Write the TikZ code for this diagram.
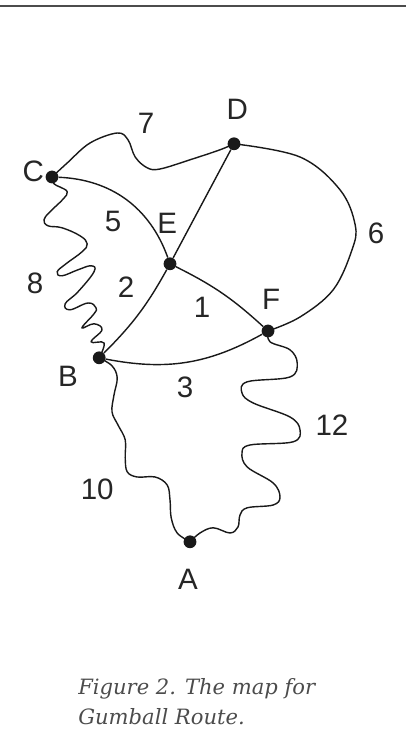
\documentclass[tikz,border=0pt]{standalone}
\usepackage{fontspec}
\setmainfont{Liberation Sans}
\newfontfamily\capfont{DejaVu Serif}

\begin{document}
\begin{tikzpicture}[
  font=\fontsize{21}{25}\selectfont,
  town/.style={circle, fill=black!90, inner sep=0pt, minimum size=0.32cm},
  lbl/.style={text=black!85, inner sep=0pt},
  wt/.style={text=black!85, inner sep=0pt},
  road/.style={line width=1pt, black!90}
]
\useasboundingbox (0,0) rectangle (10.15,18.525);
\draw[line width=1.4pt, black!70] (0,18.37) -- (10.15,18.37);

% stops
\node[town] (C) at (1.30,14.10) {};
\node[town] (D) at (5.85,14.93) {};
\node[town] (E) at (4.25,11.93) {};
\node[town] (F) at (6.70,10.25) {};
\node[town] (B) at (2.48,9.58) {};
\node[town] (A) at (4.75,4.98) {};

\node[lbl] (labC) at (0.83,14.23) {C};
\node[lbl] (labD) at (5.93,15.78) {D};
\node[lbl] (labE) at (4.18,12.95) {E};
\node[lbl] (labF) at (6.78,11.05) {F};
\node[lbl] (labB) at (1.70,9.12) {B};
\node[lbl] (labA) at (4.70,4.03) {A};

% roads
\draw[road] (C) to[bend left=34] (E);
\draw[road] (D) -- (E);
\draw[road] (E) to[bend left=8] (F);
\draw[road] (E) to[bend left=8] (B);
\draw[road] (B) to[bend right=20] (F);
\draw[road] plot[smooth, tension=0.7] coordinates {(C.center) (1.35,13.93) (1.50,13.85) (1.68,13.73) (1.58,13.55) (1.25,13.23) (1.10,13.03) (1.20,12.88) (1.55,12.83) (2.00,12.63) (2.18,12.43) (2.05,12.23) (1.65,11.93) (1.43,11.73) (1.55,11.63) (1.95,11.78) (2.28,11.88) (2.35,11.73) (1.95,11.23) (1.63,10.93) (1.75,10.78) (2.20,10.95) (2.40,10.83) (2.35,10.68) (2.05,10.33) (2.35,10.43) (2.55,10.28) (2.28,9.98) (2.60,9.95) (B.center)};
\draw[road] plot[smooth, tension=0.6] coordinates {(C.center) (1.68,14.45) (2.25,14.95) (2.93,15.20) (3.20,15.03) (3.38,14.60) (3.68,14.33) (4.00,14.30) (4.75,14.53) (5.50,14.78) (D.center)};
\draw[road] plot[smooth, tension=0.6] coordinates {(D.center) (7.50,14.60) (8.50,13.78) (8.88,12.90) (8.80,12.28) (8.33,11.28) (7.50,10.60) (F.center)};
\draw[road] plot[smooth, tension=0.6] coordinates {(B.center) (2.80,9.38) (2.93,9.08) (2.85,8.65) (2.80,8.23) (2.95,7.90) (3.13,7.53) (3.13,7.08) (3.18,6.73) (3.43,6.60) (3.88,6.60) (4.18,6.40) (4.25,6.03) (4.28,5.58) (4.43,5.20) (A.center)};
\draw[road] plot[smooth, tension=0.6] coordinates {(F.center) (6.75,9.98) (7.25,9.78) (7.43,9.45) (7.25,9.10) (6.18,8.98) (6.05,8.70) (6.33,8.45) (7.25,8.10) (7.50,7.78) (7.33,7.48) (6.25,7.40) (6.05,7.20) (6.18,6.85) (6.83,6.45) (7.00,6.10) (6.83,5.90) (6.18,5.83) (6.00,5.65) (5.95,5.35) (5.75,5.20) (5.33,5.33) (5.00,5.20) (A.center)};

% weights
\node[wt] (w7) at (3.65,15.45) {7};
\node[wt] (w5) at (2.83,12.98) {5};
\node[wt] (w6) at (9.40,12.70) {6};
\node[wt] (w8) at (0.88,11.45) {8};
\node[wt] (w2) at (3.15,11.35) {2};
\node[wt] (w1) at (5.05,10.85) {1};
\node[wt] (w3) at (4.63,8.85) {3};
\node[wt] (w12) at (8.30,7.90) {12};
\node[wt] (w10) at (2.43,6.28) {10};

\node[anchor=north west, align=left, inner sep=0pt, text=black!70,
  font=\capfont\itshape\fontsize{15}{21.3}\selectfont] (cap) at (1.95,1.58)
  {Figure 2. The map for\\Gumball Route.};
\end{tikzpicture}
\end{document}
